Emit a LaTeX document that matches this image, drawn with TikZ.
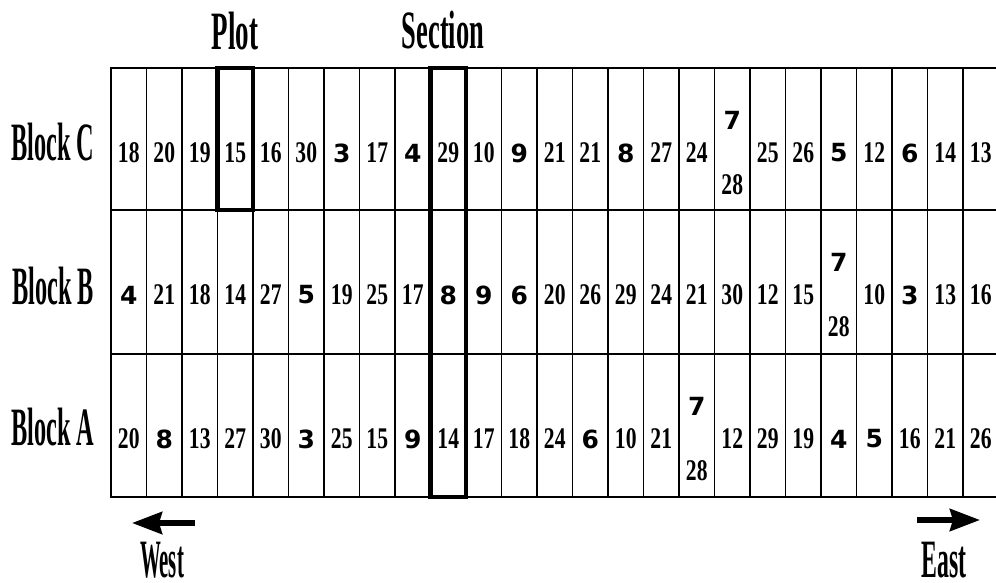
\documentclass[tikz,border=0pt]{standalone}
\usepackage{fontspec}
\setmainfont{Liberation Serif}
\newfontfamily\digfont{DejaVu Sans}
\usetikzlibrary{arrows.meta}
\begin{document}
\begin{tikzpicture}[x=1pt,y=-1pt,
  gridline/.style={line width=1.8pt, line cap=rect},
  thickbox/.style={line width=4.5pt},
  bigarrow/.style={line width=5.5pt, -{Stealth[length=30pt,width=22pt,inset=3pt]}},
  lab/.style={inner sep=0pt, font=\fontsize{54}{54}\selectfont\bfseries},
  twodig/.style={inner sep=0pt, font=\fontsize{30}{30}\selectfont\bfseries},
  onedig/.style={inner sep=0pt, font=\digfont\fontsize{25}{25}\selectfont\bfseries}
]
\useasboundingbox (0,0) rectangle (996,583);
% grid
\foreach \yy in {68,210,354,497} \draw[gridline] (111,\yy) -- (1000,\yy);
\foreach \i in {0,...,24} \draw[gridline] ({111+35.5*\i},68) -- ({111+35.5*\i},497);
% numbers
\newcommand{\cellrow}[3]{%
  \foreach \v [count=\i from 0] in {#3} {%
    \pgfmathsetmacro{\cx}{128.75+35.5*\i}%
    \ifnum\v=0
      \node[onedig] (#1-\i-a) at (\cx,{#2+52}) {7};
      \node[twodig] (#1-\i-b) at (\cx,{#2+117}) {\scalebox{0.72}[1]{28}};
    \else\ifnum\v<10
      \node[onedig] (#1-\i) at (\cx,{#2+85}) {\v};
    \else
      \node[twodig] (#1-\i) at (\cx,{#2+85}) {\scalebox{0.72}[1]{\v}};
    \fi\fi
  }}
\cellrow{C}{68}{18,20,19,15,16,30,3,17,4,29,10,9,21,21,8,27,24,0,25,26,5,12,6,14,13}
\cellrow{B}{210}{4,21,18,14,27,5,19,25,17,8,9,6,20,26,29,24,21,30,12,15,0,10,3,13,16}
\cellrow{A}{354}{20,8,13,27,30,3,25,15,9,14,17,18,24,6,10,21,0,12,29,19,4,5,16,21,26}
% highlighted plot and section
\draw[thickbox] (217.5,68) rectangle (253,210);
\draw[thickbox] (430.5,68) rectangle (466,497);
% labels
\node[lab] (plot) at (235,31) {\scalebox{0.5}[1]{Plot}};
\node[lab] (section) at (443,30) {\scalebox{0.49}[1]{Section}};
\node[lab] (blockC) at (53,142) {\scalebox{0.45}[1]{Block C}};
\node[lab] (blockB) at (53,286) {\scalebox{0.45}[1]{Block B}};
\node[lab] (blockA) at (53,427) {\scalebox{0.45}[1]{Block A}};
\node[lab] (west) at (162,560) {\scalebox{0.385}[1]{West}};
\node[lab] (east) at (944,560) {\scalebox{0.44}[1]{East}};
% arrows
\coordinate (w1) at (195,523);
\coordinate (w2) at (132,523);
\coordinate (e1) at (917,520);
\coordinate (e2) at (980,520);
\draw[bigarrow] (w1) -- (w2);
\draw[bigarrow] (e1) -- (e2);
\end{tikzpicture}
\end{document}
